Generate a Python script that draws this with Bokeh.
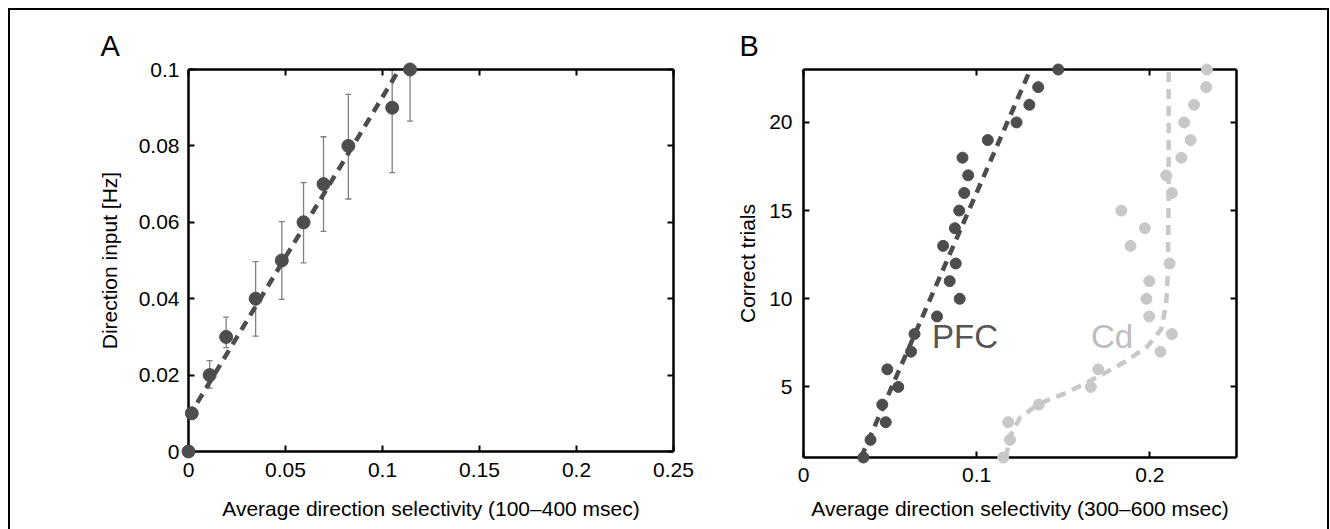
from bokeh.plotting import figure
from bokeh.layouts import row
from bokeh.models import (Range1d, LinearAxis, FixedTicker, ColumnDataSource,
                          Whisker, TeeHead, Label, Title)
from bokeh.embed import file_html
from bokeh.resources import INLINE

# ---------------- data ----------------
# Panel A
a_sel = [0.0, 0.0017, 0.0109, 0.0194, 0.0346, 0.0481, 0.0593, 0.0696, 0.0824, 0.105, 0.1142]
a_input = [0.0, 0.01, 0.02, 0.03, 0.04, 0.05, 0.06, 0.07, 0.08, 0.09, 0.10]
a_err_sel = [0.0109, 0.0194, 0.0346, 0.0481, 0.0593, 0.0696, 0.0824, 0.105, 0.1142]
a_err_low = [0.0166, 0.0272, 0.0302, 0.0398, 0.0494, 0.0576, 0.0661, 0.0730, 0.0865]
a_err_high = [0.0238, 0.0352, 0.0497, 0.0602, 0.0704, 0.0824, 0.0935, 0.1000, 0.1000]
a_fit_x = [0.0, 0.1086]
a_fit_y = [0.009, 0.100]
a_xticks = [0, 0.05, 0.1, 0.15, 0.2, 0.25]
a_xlabels = ["0", "0.05", "0.1", "0.15", "0.2", "0.25"]
a_yticks = [0, 0.02, 0.04, 0.06, 0.08, 0.1]
a_ylabels = ["0", "0.02", "0.04", "0.06", "0.08", "0.1"]

# Panel B
trials = list(range(1, 24))
pfc_sel = [0.0346, 0.0387, 0.0475, 0.0455, 0.0547, 0.0484, 0.0621, 0.0641, 0.0771,
           0.0902, 0.0844, 0.0879, 0.0806, 0.0874, 0.0899, 0.0928, 0.0951, 0.0918,
           0.1064, 0.1230, 0.1304, 0.1355, 0.1471]
cd_sel = [0.1153, 0.1192, 0.1182, 0.1359, 0.1659, 0.1702, 0.2061, 0.2127, 0.1996,
          0.1980, 0.1996, 0.2114, 0.1888, 0.1971, 0.1835, 0.2127, 0.2094, 0.2182,
          0.2235, 0.2198, 0.2255, 0.2325, 0.2329]
pfc_fit_x = [0.0332, 0.1310]
pfc_fit_y = [1, 23]
cd_fit_x = [0.1169, 0.1192, 0.1251, 0.1359, 0.1525, 0.1702, 0.1859, 0.1986, 0.2065,
            0.2094, 0.2104, 0.2108, 0.2108]
cd_fit_y = [1.0, 2.2, 3.27, 4.04, 4.7, 5.58, 6.44, 7.3, 8.27, 9.7, 11.6, 15.5, 23.0]
b_xticks = [0, 0.1, 0.2]
b_xlabels = ["0", "0.1", "0.2"]
b_yticks = [5, 10, 15, 20]
b_ylabels = ["5", "10", "15", "20"]

DARK = "#4d4d4d"
LIGHT = "#c8c8c8"
FONT = "Liberation Sans"
FS = "21px"


def base_axis(ax):
    ax.axis_line_width = 2.5
    ax.axis_line_color = "black"
    ax.major_tick_in = 6
    ax.major_tick_out = 0
    ax.major_tick_line_width = 2
    ax.major_tick_line_color = "black"
    ax.minor_tick_line_color = None
    ax.major_label_text_font = FONT
    ax.major_label_text_font_size = FS
    ax.major_label_text_color = "black"
    ax.axis_label_text_font = FONT
    ax.axis_label_text_font_style = "normal"
    ax.axis_label_text_font_size = FS
    ax.axis_label_text_color = "black"


def make_panel(width, height, xr, yr, borders, xticks, xlabels, yticks, ylabels,
               xlab, ylab, xstand, ystand, xls, yls, letter, letter_offset):
    p = figure(width=width, height=height, output_backend="svg", toolbar_location=None,
               x_range=Range1d(*xr), y_range=Range1d(*yr),
               x_axis_location=None, y_axis_location=None,
               min_border_left=borders[0], min_border_right=borders[1],
               min_border_top=borders[2], min_border_bottom=borders[3])
    try:
        p.frame_align = False
    except Exception:
        pass
    bottom = LinearAxis(ticker=FixedTicker(ticks=xticks),
                        major_label_overrides={t: l for t, l in zip(xticks, xlabels)},
                        axis_label=xlab, axis_label_standoff=xstand,
                        major_label_standoff=xls)
    left = LinearAxis(ticker=FixedTicker(ticks=yticks),
                      major_label_overrides={t: l for t, l in zip(yticks, ylabels)},
                      axis_label=ylab, axis_label_standoff=ystand,
                      major_label_standoff=yls)
    top = LinearAxis(ticker=FixedTicker(ticks=xticks),
                     major_label_overrides={t: "" for t in xticks},
                     major_label_standoff=0)
    right = LinearAxis(ticker=FixedTicker(ticks=yticks),
                       major_label_overrides={t: "" for t in yticks},
                       major_label_standoff=0)
    for ax in (bottom, left, top, right):
        base_axis(ax)
    p.add_layout(bottom, "below")
    p.add_layout(left, "left")
    p.add_layout(top, "above")
    p.add_layout(right, "right")
    p.add_layout(Title(text=letter, align="left", offset=letter_offset,
                       text_font=FONT, text_font_size="29px",
                       text_font_style="normal", text_color="black", standoff=15),
                 "above")
    p.xgrid.visible = False
    p.ygrid.visible = False
    p.outline_line_color = None
    return p


# ---------------- panel A ----------------
pA = make_panel(690, 519, (0, 0.25), (0, 0.1), (178, 27, 59, 78),
                a_xticks, a_xlabels, a_yticks, a_ylabels,
                "Average direction selectivity (100\u2013400 msec)", "Direction input [Hz]",
                17, 15, 11, 9, "A", -88)

err_src = ColumnDataSource(dict(x=a_err_sel, lo=a_err_low, hi=a_err_high))
wh = Whisker(source=err_src, base="x", lower="lo", upper="hi",
             line_color="#808080", line_width=1.3,
             lower_head=TeeHead(size=6, line_color="#808080", line_width=1.3),
             upper_head=TeeHead(size=6, line_color="#808080", line_width=1.3))
pA.add_layout(wh)
pA.line(a_fit_x, a_fit_y, line_color=DARK, line_width=4.5, line_dash="10 7")
pA.scatter(a_sel, a_input, size=13, fill_color=DARK, line_color=DARK, level="overlay")

# ---------------- panel B ----------------
pB = make_panel(627, 519, (0, 0.25), (1, 23), (103, 91, 59, 72),
                b_xticks, b_xlabels, b_yticks, b_ylabels,
                "Average direction selectivity (300\u2013600 msec)", "Correct trials",
                12, 7, 10, 11, "B", -64)

pB.line(pfc_fit_x, pfc_fit_y, line_color=DARK, line_width=4.5, line_dash="10 7")
pB.line(cd_fit_x, cd_fit_y, line_color=LIGHT, line_width=4.5, line_dash="10 7")
pB.scatter(pfc_sel, trials, size=11, fill_color=DARK, line_color=DARK, level="overlay")
pB.scatter(cd_sel, trials, size=11, fill_color=LIGHT, line_color=LIGHT, level="overlay")
pB.add_layout(Label(x=0.0742, y=6.8, text="PFC", text_font=FONT, text_font_size="33px",
                    text_color="#555555"))
pB.add_layout(Label(x=0.166, y=6.8, text="Cd", text_font=FONT, text_font_size="33px",
                    text_color="#bdbdbd"))

layout = row(pA, pB, margin=(8, 0, 0, 8),
             styles={"border-top": "2px solid black",
                     "border-left": "2px solid black",
                     "border-right": "2px solid black"})

open("out.html", "w").write(file_html(layout, INLINE))
